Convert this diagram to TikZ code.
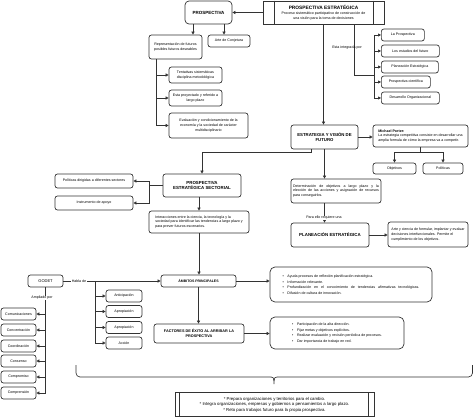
\documentclass[tikz,border=0pt]{standalone}
\usepackage{fontspec}
\setmainfont{Liberation Sans}
\usetikzlibrary{arrows.meta}
\newcommand{\sm}{\normalfont\fontsize{3.6}{4.6}\selectfont}
\newcommand{\hd}[1]{\normalfont\bfseries\fontsize{#1}{#1}\selectfont}
\newcommand{\bt}{\makebox[5pt][l]{\textbullet}}
\begin{document}
\begin{tikzpicture}[x=1pt,y=-1pt,
  box/.style={draw=black!80, line width=0.7pt, rounded corners=2.5pt, inner sep=1pt, align=center, font=\sm},
  arr/.style={-{Triangle[length=3pt,width=3pt]}, line width=0.65pt, draw=black!80},
  ln/.style={line width=0.65pt, draw=black!80},
  lab/.style={font=\sm, inner sep=0.5pt}]
\useasboundingbox (0,0) rectangle (474,417);

% top
\node[draw=black!80, line width=0.7pt, minimum width=121pt, minimum height=23pt, inner sep=0pt, align=center, font=\sm] (pe) at (323.5,12.5)
 {\hd{4.8}PROSPECTIVA ESTRATÉGICA\\[0.3pt] \sm Proceso sistemático participativo de construcción de\\ una visión para la toma de decisiones};
\draw[ln] ([xshift=12pt]pe.north west) -- ([xshift=12pt]pe.south west);
\draw[ln] ([xshift=-11pt]pe.north east) -- ([xshift=-11pt]pe.south east);

\node[box, rounded corners=4pt, minimum width=47pt, minimum height=23pt, font=\hd{4.5}] (pros) at (208.5,12.5) {PROSPECTIVA};
\node[box, minimum width=42pt, minimum height=12pt] (arte) at (229,41) {Arte de Conjetura};
\node[box, minimum width=53pt, minimum height=24pt] (rep) at (175.5,47) {Representación de futuros\\posibles futuros deseables};
\node[box, minimum width=53pt, minimum height=16pt] (tent) at (195.5,75) {Tentativas sistemáticas\\disciplina metodológica};
\node[box, minimum width=53pt, minimum height=16pt] (proy) at (195.5,98) {Esta proyectado y referido a\\largo plazo};
\node[box, minimum width=79pt, minimum height=25pt] (eval) at (208.5,125.5) {Evaluación y condicionamiento de la\\economía y la sociedad de carácter\\multidisciplinario};

\draw[arr] (pe.west) -- (pros.east);
\draw[arr] ([xshift=-15.5pt]pros.south) -- ([xshift=-15.5pt]pros.south |- rep.north);
\draw[arr] ([xshift=15.5pt]pros.south) -- ([xshift=15.5pt]pros.south |- arte.north);
\coordinate (r0) at ([xshift=8pt]rep.south west);
\draw[arr] (r0) |- (eval.west);
\draw[arr] (r0) |- (tent.west);
\draw[arr] (r0) |- (proy.west);

% right list
\node[box, anchor=west, minimum width=43pt, minimum height=12pt] (lp) at (381,35) {La Prospectiva};
\node[box, anchor=west, minimum width=58pt, minimum height=12pt] (ef) at (381,51) {Los estudios del futuro};
\node[box, anchor=west, minimum width=57pt, minimum height=12pt] (pl) at (381,67) {Planeación Estratégica};
\node[box, anchor=west, minimum width=49pt, minimum height=12pt] (pc) at (381,82) {Prospectiva científica};
\node[box, anchor=west, minimum width=58pt, minimum height=12pt] (dor) at (381,98) {Desarrollo Organizacional};
\coordinate (pe1) at ([xshift=30.5pt]pe.south);
\coordinate (bus1) at (374,75);
\draw[ln] (pe1) |- (bus1);
\draw[ln] (bus1 |- lp.west) -- (bus1 |- dor.west);
\foreach \n in {lp,ef,pl,pc,dor}{\draw[arr] (bus1 |- \n.west) -- (\n.west);}
\node[lab] (integ) at (347,48) {Esta integrada por};

% estrategia
\node[box, minimum width=67pt, minimum height=24pt, font=\hd{4.3}] (estr) at (324.5,137) {ESTRATEGIA Y VISIÓN DE\\[0.8pt]FUTURO};
\draw[arr] (pe.south) -- (pe.south |- estr.north);
\node[box, minimum width=95pt, minimum height=22pt, align=left] (porter) at (420.5,136) {\textbf{Michael Porter:}\\La estrategia competitiva consiste en desarrollar una\\amplia formula de cómo la empresa va a competir.};
\draw[arr] (estr.east) -- (estr.east -| porter.west);
\node[box, minimum width=43pt, minimum height=11pt] (obj) at (394.5,168.5) {Objetivos};
\node[box, minimum width=40pt, minimum height=11pt] (pol) at (443,168.5) {Políticas};
\coordinate (pb) at ([yshift=-5pt]porter.south);
\draw[ln] (porter.south) -- (pb);
\draw[arr] (pb) -| (obj.north);
\draw[arr] (pb) -| (pol.north);

\node[box, minimum width=90pt, minimum height=24pt, align=left] (det) at (336,191) {\makebox[86pt][s]{Determinación de objetivos a largo plazo y la}\\\makebox[86pt][s]{elección de las acciones y asignación de recursos}\\para conseguirlos.};
\draw[arr] (estr.south) -- (estr.south |- det.north);
\node[box, minimum width=78pt, minimum height=24pt, font=\hd{4.4}] (plan) at (330,235) {PLANEACIÓN ESTRATÉGICA};
\draw[arr] (estr.south |- det.south) -- (estr.south |- plan.north);
\node[lab, fill=white] (para) at (324,218) {Para ello requiere una};
\node[box, minimum width=80pt, minimum height=25pt, align=left] (arteb) at (428,234.5) {Arte y ciencia de formular, implantar y evaluar\\decisiones interfuncionales. Permite el\\cumplimiento de los objetivos.};
\draw[arr] (plan.east) -- (plan.east -| arteb.west);

% sectorial
\node[box, minimum width=78pt, minimum height=23pt, font=\hd{4.4}] (pes) at (202,185.5) {PROSPECTIVA\\[0.8pt]ESTRATÉGICA SECTORIAL};
\draw[arr] ([xshift=-13.5pt]estr.south) -- ++(0,3) -| (pes.north);
\node[box, minimum width=78pt, minimum height=14pt] (polsec) at (94,181) {Políticas dirigidas a diferentes sectores};
\node[box, minimum width=78pt, minimum height=14pt] (inst) at (94,203) {Instrumento de apoyo};
\coordinate (pb2) at ([xshift=-13pt]pes.west);
\draw[ln] (pes.west) -- (pb2);
\draw[arr] (pb2) |- (polsec.east);
\draw[arr] (pb2) |- (inst.east);

\node[box, minimum width=100pt, minimum height=22pt, align=left] (inter) at (199,222) {Interacciones entre la ciencia, la tecnología y la\\sociedad para identificar las tendencias a largo plazo y\\para prever futuros escenarios.};
\draw[arr] (inter.north |- pes.south) -- (inter.north);

\node[box, minimum width=75pt, minimum height=12pt, font=\hd{3.5}] (amb) at (198.5,281) {ÁMBITOS PRINCIPALES};
\draw[arr] (inter.south) -- (inter.south |- amb.north);
\node[box, rounded corners=5pt, minimum width=162pt, minimum height=35pt, align=left, font=\fontsize{3.6}{5.6}\selectfont] (bul1) at (351,284.5)
 {\bt Ayuda procesos de reflexión planificación estratégica.\\ \bt Información relevante.\\ \bt \makebox[132pt][s]{Profundización en el conocimiento de tendencias afirmativas tecnológicas.}\\ \bt Difusión de cultura de innovación.};
\draw[arr] (amb.east) -- (amb.east -| bul1.west);

\node[box, minimum width=90pt, minimum height=19pt, font=\hd{3.8}] (fac) at (199,333.5) {FACTORES DE ÉXITO AL ARRIBAR LA\\[0.8pt]PROSPECTIVA};
\draw[arr] (amb.south) -- (amb.south |- fac.north);
\node[box, rounded corners=5pt, minimum width=134pt, minimum height=32pt, align=left, font=\fontsize{3.6}{5.4}\selectfont] (bul2) at (337,333)
 {\bt Participación de la alta dirección.\\ \bt Fijar metas y objetivos explícitos.\\ \bt Realizar evaluación y revisión periódica de procesos.\\ \bt Dar importancia de trabajo en red.};
\draw[arr] (fac.east) -- (fac.east -| bul2.west);

% GODET
\node[box, minimum width=35pt, minimum height=12pt, font=\normalfont\fontsize{4}{4}\selectfont] (godet) at (45.5,281) {GODET};
\draw[arr] (godet.east) -- (amb.west);
\node[lab, fill=white] (hab) at (79,281) {Habla de};
\node[box, minimum width=36pt, minimum height=12pt] (ant) at (124,296) {Anticipación};
\node[box, minimum width=36pt, minimum height=12pt] (apr1) at (124,311.5) {Apropiación};
\node[box, minimum width=36pt, minimum height=12pt] (apr2) at (124,327.5) {Apropiación};
\node[box, minimum width=36pt, minimum height=12pt] (acc) at (124,343) {Acción};
\coordinate (g1) at (95,281);
\foreach \n in {ant,apr1,apr2,acc}{\draw[arr] (g1) |- (\n.west);}

\node[box, minimum width=35pt, minimum height=12pt] (c1) at (18.5,314) {Comunicaciones};
\node[box, minimum width=35pt, minimum height=12pt] (c2) at (18.5,330) {Concentración};
\node[box, minimum width=35pt, minimum height=12pt] (c3) at (18.5,346) {Coordinación};
\node[box, minimum width=35pt, minimum height=12pt] (c4) at (18.5,361) {Consenso};
\node[box, minimum width=35pt, minimum height=12pt] (c5) at (18.5,377) {Compromiso};
\node[box, minimum width=35pt, minimum height=12pt] (c6) at (18.5,393) {Comprensión};
\draw[ln] (godet.south) -- (godet.south |- c6.east);
\foreach \n in {c1,c2,c3,c4,c5,c6}{\draw[arr] (godet.south |- \n.east) -- (\n.east);}
\node[lab, fill=white] (ampl) at (42,298) {Ampliado por};

% brace
\draw[ln, rounded corners=4pt] (76,365) -- (76,377) -- (271,377);
\draw[ln] (271,377) .. controls (273,377) and (274,378) .. (274,381) -- (274,384);
\draw[ln] (277,377) .. controls (275,377) and (274,378) .. (274,381);
\draw[ln, rounded corners=4pt] (277,377) -- (472.5,377) -- (472.5,365);

% bottom
\node[draw=black!80, line width=0.7pt, minimum width=199pt, minimum height=24pt, inner sep=0pt, align=center, font=\normalfont\fontsize{4.3}{5.4}\selectfont] (fin) at (274.5,404.5)
 {* Prepara organizaciones y territorios para el cambio.\\* Integra organizaciones, empresas y gobiernos a pensamientos a largo plazo.\\* Reto para trabajos futuro para la propia prospectiva.};
\draw[ln] ([xshift=5pt]fin.north west) -- ([xshift=5pt]fin.south west);
\draw[ln] ([xshift=-6pt]fin.north east) -- ([xshift=-6pt]fin.south east);
\end{tikzpicture}
\end{document}
